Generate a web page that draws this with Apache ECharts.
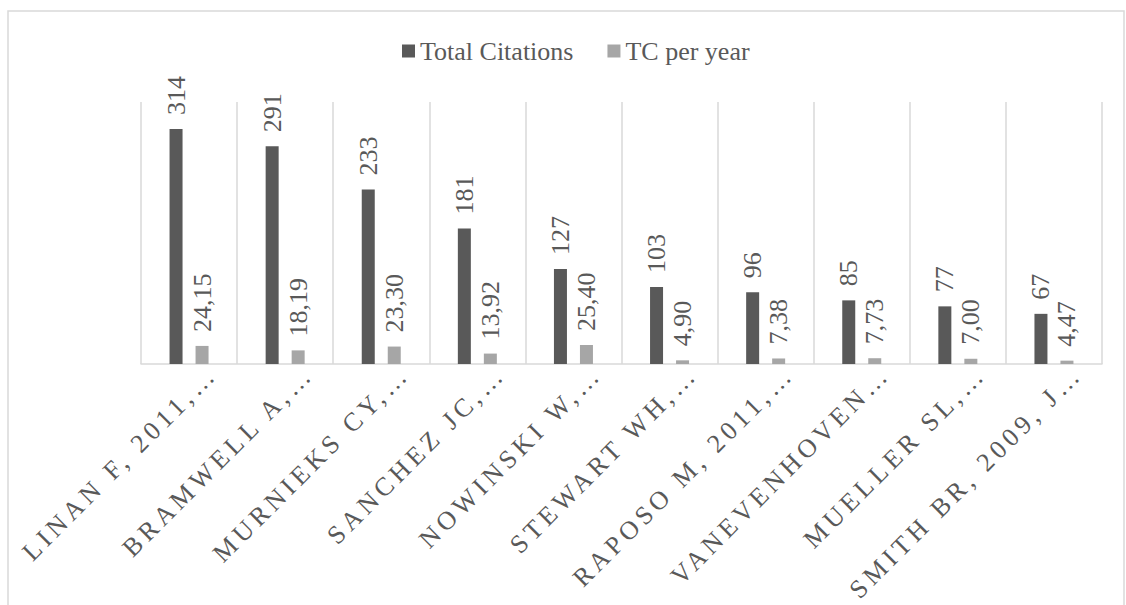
<!DOCTYPE html>
<html><head><meta charset="utf-8">
<script src="https://cdn.jsdelivr.net/npm/echarts@6/dist/echarts.min.js"></script>
<style>html,body{margin:0;padding:0;background:#fff}#c{width:1126px;height:605px}</style>
</head><body><div id="c"></div>
<script>
const categories = ['LINAN F, 2011,…', 'BRAMWELL A,…', 'MURNIEKS CY,…', 'SANCHEZ JC,…', 'NOWINSKI W,…', 'STEWART WH,…', 'RAPOSO M, 2011,…', 'VANEVENHOVEN…', 'MUELLER SL,…', 'SMITH BR, 2009, J…'];
const totalCitations = [314, 291, 233, 181, 127, 103, 96, 85, 77, 67];
const tcPerYear = [24.15, 18.19, 23.30, 13.92, 25.40, 4.90, 7.38, 7.73, 7.00, 4.47];
const seriesNames = ['Total Citations', 'TC per year'];

const FONT = "'Liberation Serif', 'Times New Roman', serif";
const chart = echarts.init(document.getElementById('c'), null, {renderer: 'svg'});
const valueLabel = (fmt) => ({
  show: true, position: 'top', rotate: 90, align: 'left', verticalAlign: 'middle',
  distance: 14, fontSize: 26, fontFamily: FONT, color: '#595959', formatter: fmt
});
chart.setOption({
  animation: false,
  backgroundColor: '#fff',
  graphic: [{type: 'rect', shape: {x: 8, y: 11, width: 1116, height: 640}, style: {fill: 'none', stroke: '#d9d9d9', lineWidth: 1.5}, silent: true}],
  legend: {
    left: 397, top: 33, itemWidth: 13, itemHeight: 13, itemGap: 34, icon: 'rect',
    textStyle: {fontSize: 26, fontFamily: FONT, color: '#595959'},
    data: seriesNames
  },
  grid: {left: 141, right: 24, top: 102, bottom: 241, containLabel: false},
  xAxis: {
    type: 'category', data: categories,
    axisTick: {show: false},
    axisLine: {lineStyle: {color: '#d9d9d9', width: 1.5}},
    splitLine: {show: true, lineStyle: {color: '#d9d9d9', width: 1.5}},
    axisLabel: {interval: 0, rotate: 45, margin: 10, fontSize: 26, fontFamily: FONT, color: '#595959',
                verticalAlign: 'top', padding: [1, -20, 0, 0]}
  },
  yAxis: {type: 'value', min: 0, max: 350, show: false},
  series: [
    {name: seriesNames[0], type: 'bar', data: totalCitations, barWidth: 13, barGap: '100%',
     itemStyle: {color: '#595959'}, label: valueLabel(p => String(p.value))},
    {name: seriesNames[1], type: 'bar', data: tcPerYear, barWidth: 13, barGap: '100%',
     itemStyle: {color: '#a6a6a6'}, label: valueLabel(p => p.value.toFixed(2).replace('.', ','))}
  ]
});
function spaceAxisLabels() {
  document.querySelectorAll('#c svg text').forEach(t => {
    if (categories.indexOf(t.textContent) >= 0) t.setAttribute('letter-spacing', '4.5px');
  });
}
spaceAxisLabels();
chart.on('finished', spaceAxisLabels);
</script></body></html>
